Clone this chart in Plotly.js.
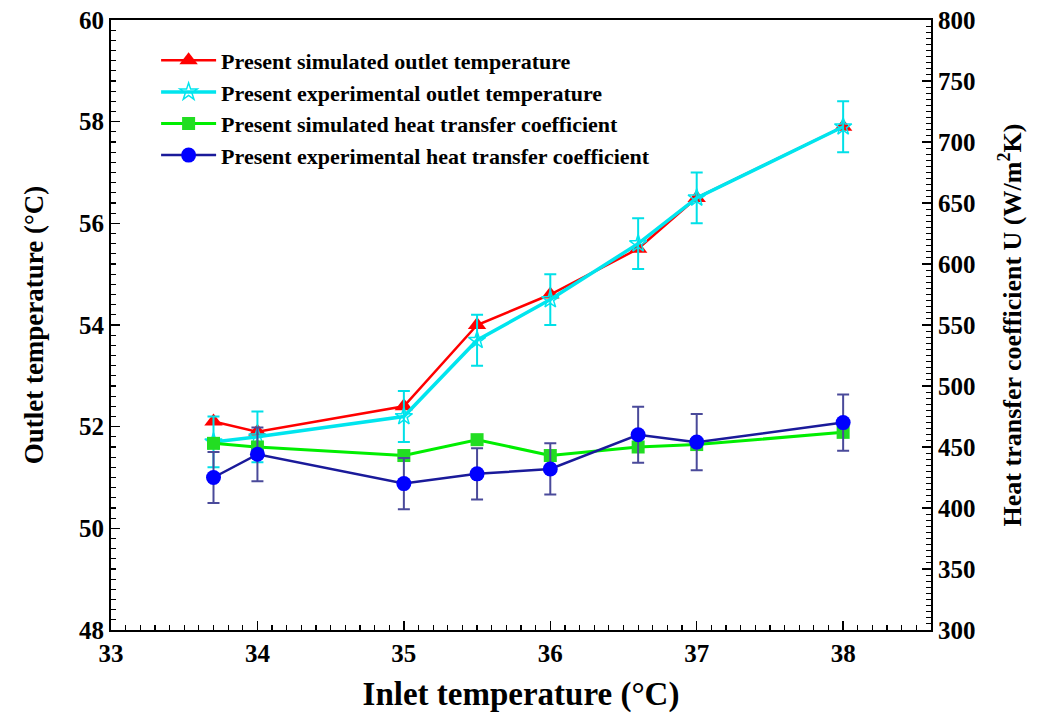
<!DOCTYPE html>
<html>
<head>
<meta charset="utf-8">
<script src="https://cdn.plot.ly/plotly-3.0.1.min.js"></script>
<style>html,body{margin:0;padding:0;background:#fff;}#chart{width:1046px;height:718px;}</style>
</head>
<body>
<div id="chart"></div>
<script>
const inletTemp = [33.7, 34, 35, 35.5, 36, 36.6, 37, 38];
const simOutlet = [52.1, 51.9, 52.4, 54.0, 54.6, 55.5, 56.5, 57.9];
const expOutlet = [51.7, 51.8, 52.2, 53.7, 54.5, 55.6, 56.5, 57.9];
const expOutletErr = [0.5, 0.5, 0.5, 0.5, 0.5, 0.5, 0.5, 0.5];
const simHTC = [453, 450, 443, 456, 443, 450, 452, 462];
const expHTC = [425, 444, 420, 428, 432, 460, 454, 470];
const expHTCErr = [21, 22, 21, 21, 21, 23, 23, 23];

const names = [
  'Present simulated outlet temperature',
  'Present experimental outlet temperature',
  'Present simulated heat transfer coefficient',
  'Present experimental heat transfer coefficient'
];

const serif = 'Liberation Serif, Times New Roman, serif';

const traces = [
  {
    x: inletTemp, y: simOutlet, name: names[0], type: 'scatter', mode: 'lines+markers',
    line: {color: '#ff0000', width: 2.5},
    marker: {symbol: 'triangle-up', size: 16, color: '#ff0000'}
  },
  {
    x: inletTemp, y: expOutlet, name: names[1], type: 'scatter', mode: 'lines+markers',
    line: {color: '#00e5ee', width: 3.5},
    marker: {symbol: 'star-open', size: 13, color: '#00e5ee', line: {width: 1.5, color: '#00e5ee'}},
    error_y: {type: 'data', array: expOutletErr, visible: true, color: '#00e0e8', thickness: 2, width: 6}
  },
  {
    x: inletTemp, y: simHTC, name: names[2], type: 'scatter', mode: 'lines+markers', yaxis: 'y2',
    line: {color: '#00ee00', width: 3},
    marker: {symbol: 'square', size: 13, color: '#22dd22'}
  },
  {
    x: inletTemp, y: expHTC, name: names[3], type: 'scatter', mode: 'lines+markers', yaxis: 'y2',
    line: {color: '#1a1a9a', width: 2.5},
    marker: {symbol: 'circle', size: 15, color: '#0000ff'},
    error_y: {type: 'data', array: expHTCErr, visible: true, color: '#4a4a9a', thickness: 2, width: 6}
  }
];

const layout = {
  width: 1046, height: 718,
  margin: {l: 111, r: 115, t: 20, b: 88},
  paper_bgcolor: '#ffffff', plot_bgcolor: '#ffffff',
  font: {family: serif, color: '#000', size: 18},
  showlegend: true,
  legend: {
    x: 0.055, y: 0.968, xanchor: 'left', yanchor: 'top',
    bgcolor: 'rgba(0,0,0,0)', borderwidth: 0,
    font: {family: serif, size: 22, weight: 'bold', color: '#000'},
    itemwidth: 55, tracegroupgap: 0
  },
  xaxis: {
    range: [33, 38.6], dtick: 1, tick0: 33,
    showgrid: false, zeroline: false,
    showline: true, linecolor: '#000', linewidth: 2, mirror: true,
    ticks: 'inside', ticklen: 9, tickwidth: 1.5, tickcolor: '#000',
    minor: {dtick: 0.1, ticks: 'inside', ticklen: 5, tickwidth: 1.2, tickcolor: '#000', showgrid: false},
    tickfont: {family: serif, size: 25, weight: 'bold'},
    title: {text: 'Inlet temperature (°C)', font: {family: serif, size: 33, weight: 'bold'}, standoff: 16}
  },
  yaxis: {
    range: [48, 60], dtick: 2, tick0: 48,
    showgrid: false, zeroline: false,
    showline: true, linecolor: '#000', linewidth: 2,
    ticks: 'inside', ticklen: 9, tickwidth: 1.5, tickcolor: '#000',
    minor: {dtick: 0.2, ticks: 'inside', ticklen: 5, tickwidth: 1.2, tickcolor: '#000', showgrid: false},
    tickfont: {family: serif, size: 25, weight: 'bold'},
    title: {text: 'Outlet temperature (°C)', font: {family: serif, size: 27, weight: 'bold'}, standoff: 28}
  },
  yaxis2: {
    overlaying: 'y', side: 'right',
    range: [300, 800], dtick: 50, tick0: 300,
    showgrid: false, zeroline: false,
    showline: true, linecolor: '#000', linewidth: 2,
    ticks: 'inside', ticklen: 9, tickwidth: 1.5, tickcolor: '#000',
    minor: {dtick: 5, ticks: 'inside', ticklen: 5, tickwidth: 1, tickcolor: '#000', showgrid: false},
    tickfont: {family: serif, size: 25, weight: 'bold'},
    title: {text: 'Heat transfer coefficient U (W/m<sup>2</sup>K)', font: {family: serif, size: 26, weight: 'bold'}, standoff: 28}
  }
};

Plotly.newPlot('chart', traces, layout, {displayModeBar: false, staticPlot: true});
</script>
</body>
</html>
